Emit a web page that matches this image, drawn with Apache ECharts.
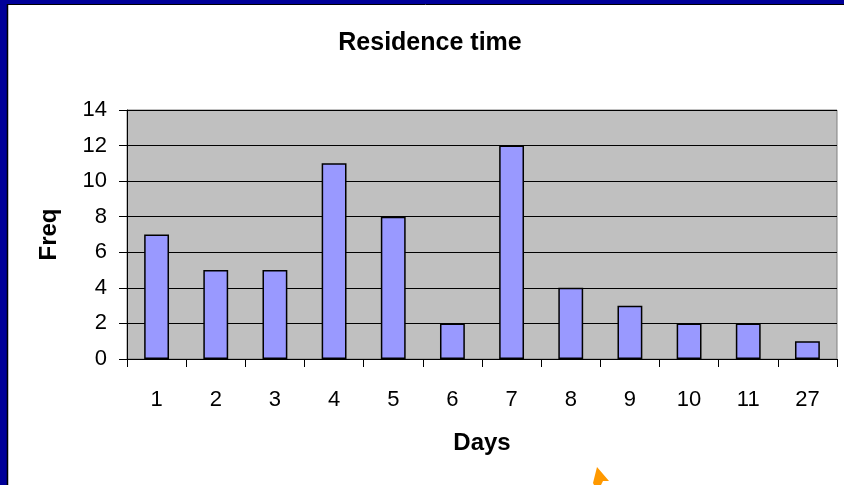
<!DOCTYPE html>
<html lang="en">
<head>
    <meta charset="UTF-8">
    <title>Residence time</title>
    <script src="https://cdn.jsdelivr.net/npm/echarts@6/dist/echarts.min.js"></script>
    <style>
        html, body { margin: 0; padding: 0; background: #fff; }
    </style>
</head>
<body>
<div id="main" style="width: 844px;height: 485px;"></div>
</body>
    <script type="text/javascript">
        var days = ['1', '2', '3', '4', '5', '6', '7', '8', '9', '10', '11', '27'];
        var freq = [7, 5, 5, 11, 8, 2, 12, 4, 3, 2, 2, 1];
        var freqTicks = [0, 2, 4, 6, 8, 10, 12, 14];

        var myChart = echarts.init(document.getElementById('main'));
        var font = 'Liberation Sans, Arial, sans-serif';

        option = {
            backgroundColor: '#ffffff',
            animation: false,
            title: {
                text: 'Residence time',
                left: 425,
                top: 26,
                textAlign: 'center',
                textStyle: { fontFamily: font, fontSize: 25, fontWeight: 'bold', color: '#000' }
            },
            grid: {
                left: 127, top: 110, right: 7, bottom: 126,
                show: true,
                backgroundColor: '#c0c0c0',
                borderColor: '#808080',
                borderWidth: 1
            },
            xAxis: {
                type: 'category',
                data: days,
                name: 'Days',
                nameLocation: 'middle',
                nameGap: 72,
                nameTextStyle: { fontFamily: font, fontSize: 24, fontWeight: 'bold', color: '#000' },
                axisLine: { lineStyle: { color: '#000', width: 1 } },
                axisTick: { show: true, length: 8, lineStyle: { color: '#000' } },
                axisLabel: { fontFamily: font, fontSize: 22, color: '#000', margin: 30 }
            },
            yAxis: {
                type: 'value',
                min: freqTicks[0],
                max: freqTicks[freqTicks.length - 1],
                interval: 2,
                name: 'Freq',
                nameLocation: 'middle',
                nameGap: 66,
                nameTextStyle: { fontFamily: font, fontSize: 24, fontWeight: 'bold', color: '#000' },
                axisLine: { show: true, lineStyle: { color: '#000', width: 1 } },
                axisTick: { show: true, length: 8, lineStyle: { color: '#000' } },
                axisLabel: { fontFamily: font, fontSize: 22, color: '#000', margin: 20 },
                splitLine: { lineStyle: { color: '#000', width: 1 } }
            },
            series: [{
                name: 'Freq',
                type: 'bar',
                data: freq,
                barWidth: '42%',
                itemStyle: {
                    color: '#9999ff',
                    borderColor: '#000',
                    borderWidth: 1.5
                }
            }],
            graphic: [
                { type: 'rect', left: 0, top: 0, shape: { width: 7, height: 485 }, style: { fill: '#000099' }, z: 100 },
                { type: 'rect', left: 0, top: 0, shape: { width: 844, height: 4 }, style: { fill: '#000099' }, z: 100 },
                { type: 'line', shape: { x1: 7.5, y1: 4, x2: 7.5, y2: 485 }, style: { stroke: '#000', lineWidth: 1.5 }, z: 100 },
                { type: 'line', shape: { x1: 7, y1: 4.5, x2: 844, y2: 4.5 }, style: { stroke: '#000', lineWidth: 1 }, z: 100 },
                {
                    type: 'polygon', z: 100,
                    shape: { points: [[597, 467], [609, 481], [603, 481], [601, 485], [594, 485], [593, 483]] },
                    style: { fill: '#ff9900' }
                }
            ]
        };
        myChart.setOption(option);
    </script>
</html>
